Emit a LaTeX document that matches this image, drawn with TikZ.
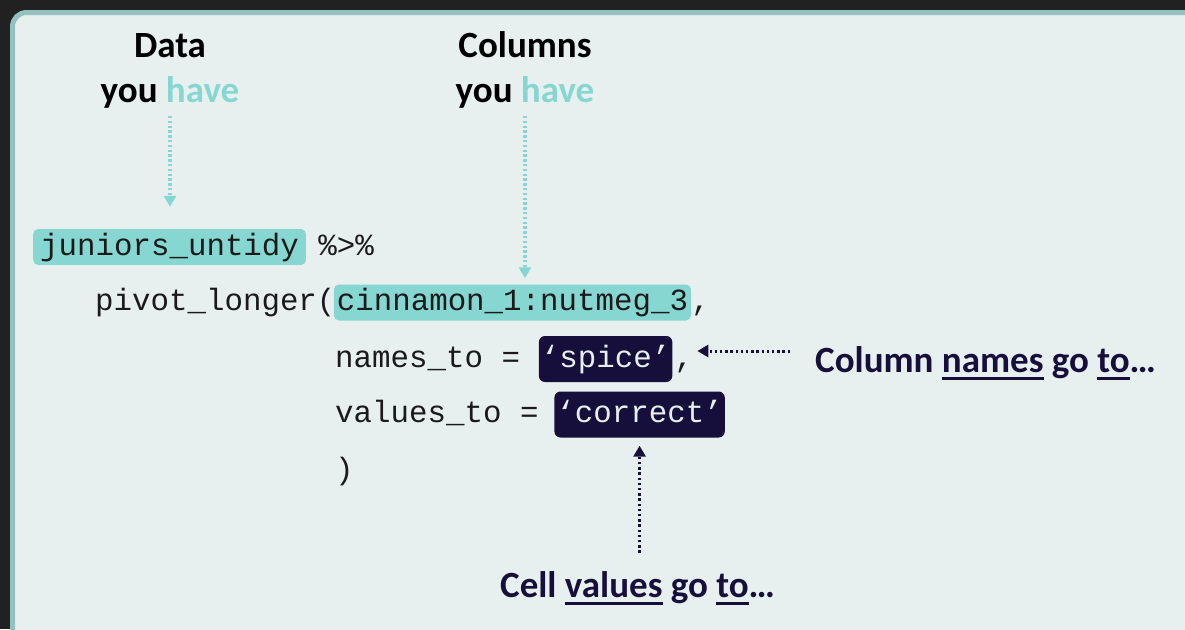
\documentclass[tikz,border=0pt]{standalone}
\usepackage{fontspec}
\setmainfont{Carlito}
\newfontfamily\codefont{Liberation Mono}
\usetikzlibrary{arrows.meta}

\definecolor{bgdark}{HTML}{212121}
\definecolor{panel}{HTML}{E8F0EF}
\definecolor{panelrim}{HTML}{93C1BF}
\definecolor{hlteal}{HTML}{86D6D1}
\definecolor{navy}{HTML}{170F3B}
\definecolor{codeink}{HTML}{1A1A1A}

% underline with a thick rule placed below the baseline
\newsavebox\ulbox
\newcommand{\thickul}[1]{\sbox\ulbox{#1}\rlap{\rule[-8pt]{\wd\ulbox}{3.5pt}}\usebox\ulbox}

\tikzset{
  code/.style={font=\codefont\fontsize{30.8}{36}\selectfont, text=codeink,
    inner sep=0pt, anchor=base west, text height=22pt, text depth=6pt},
  hlbox/.style={code, fill=hlteal, rounded corners=5pt, inner xsep=4pt, inner ysep=4pt},
  darkbox/.style={code, fill=navy, text=panel, rounded corners=6pt, inner xsep=2pt,
    inner ysep=7pt, text height=24pt, text depth=8pt},
  toplabel/.style={font=\bfseries\fontsize{37}{44}\selectfont, text=black,
    inner sep=0pt, anchor=base},
  notelabel/.style={font=\bfseries\fontsize{37}{44}\selectfont, text=navy,
    inner sep=0pt, anchor=base west},
  tealarrow/.style={draw=hlteal, line width=3.4pt, dash pattern=on 2.4pt off 2.4pt,
    -{Triangle[length=11pt,width=12pt]}},
  navyarrow/.style={draw=navy, line width=3pt, dash pattern=on 2.4pt off 2.8pt,
    -{Triangle[length=11pt,width=12pt]}},
}

\begin{document}
\begin{tikzpicture}[x=1pt, y=-1pt]
  \useasboundingbox (0,0) rectangle (1185,629);
  \clip (0,0) rectangle (1185,629);
  \fill[bgdark] (0,0) rectangle (1185,629);
  \draw[line width=5pt, draw=panelrim, fill=panel, rounded corners=14pt]
    (12.5,12.5) rectangle (1240,690);

  % headings above the code
  \node[toplabel] (d1) at (170,57) {Data};
  \node[toplabel] (d2) at (170,102) {you \textcolor{hlteal}{have}};
  \node[toplabel] (c1) at (525,57) {Columns};
  \node[toplabel] (c2) at (525,102) {you \textcolor{hlteal}{have}};

  % the pipeline
  \node[hlbox, inner xsep=7pt] (ju) at (33,255) {juniors\_untidy};
  \node[code] (pipe) at ([xshift=12pt]ju.base east) {\%>\%};

  \node[code] (pl) at (95,310.5) {pivot\_longer(};
  \node[hlbox, inner xsep=3pt] (cin) at ([xshift=-2pt]pl.base east) {cinnamon\_1:nutmeg\_3};
  \node[code] (cm2) at (cin.base east) {,};

  \node[code] (nt) at (335,367) {names\_to\ =\ \mbox{}};
  \node[darkbox] (sp) at (nt.base east) {‘spice’};
  \node[code] (cm3) at ([xshift=2pt]sp.base east) {,};

  \node[code] (vt) at (335,422.5) {values\_to\ =\ \mbox{}};
  \node[darkbox] (co) at ([xshift=-3pt]vt.base east) {‘correct’};

  \node[code] (cl) at (335,479) {)};

  % notes on the right and below
  \node[notelabel] (cn) at (815,372) {Column \thickul{names} go \thickul{to}…};
  \node[notelabel] (cv) at (500,597) {Cell \thickul{values} go \thickul{to}…};

  % connectors
  \draw[tealarrow, shorten <=8pt, shorten >=22pt] (d2.south) -- (d2.south |- ju.north);
  \draw[tealarrow, shorten <=8pt, shorten >=6pt] (c2.south) -- (c2.south |- cin.north);
  \draw[navyarrow, shorten <=25pt, shorten >=4pt] (cn.west |- 0,351) -- (cm3.east |- 0,351);
  \draw[navyarrow, shorten <=18pt, shorten >=8pt] (cv.north -| co.south) -- (co.south);
\end{tikzpicture}
\end{document}
